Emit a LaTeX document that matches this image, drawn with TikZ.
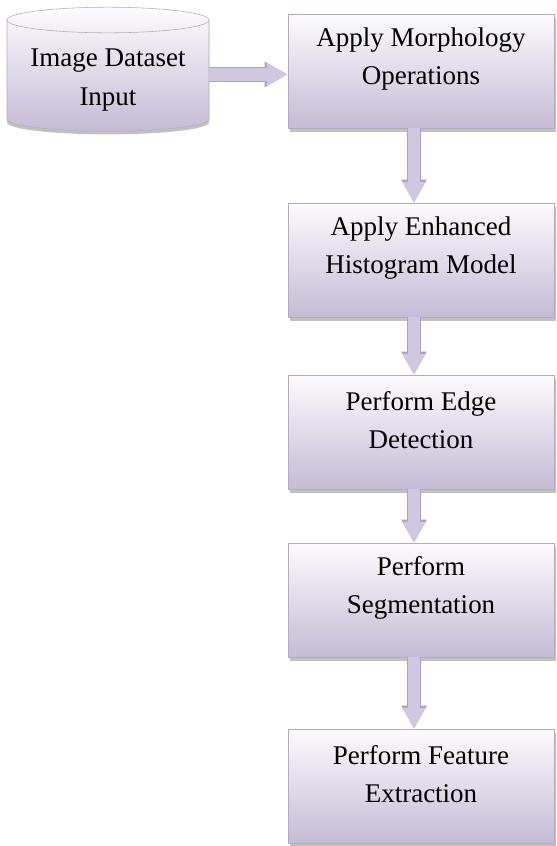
\documentclass[tikz,border=0pt]{standalone}
\usepackage{fontspec}
\setmainfont{Liberation Serif}
\usetikzlibrary{arrows.meta,positioning,shadows}

\definecolor{steptop}{RGB}{252,251,253}
\definecolor{stepfill}{RGB}{197,187,214}
\definecolor{stepline}{RGB}{178,172,190}
\definecolor{arrowfill}{RGB}{208,199,224}
\definecolor{arrowline}{RGB}{172,164,190}

\begin{document}
\begin{tikzpicture}[
  every node/.style={font=\fontsize{19.2}{27.5}\selectfont},
  stepbox/.style={draw=stepline, rectangle, minimum width=6.65cm, minimum height=2.85cm,
    top color=steptop, bottom color=stepfill,
    drop shadow={shadow xshift=0.05cm, shadow yshift=-0.1cm, fill=gray!60, opacity=0.8}},
  steptext/.style={align=center},
  flow/.style={line width=0.32cm, draw=arrowfill, -{Triangle[length=0.52cm,width=0.54cm]},
    preaction={draw=arrowline, line width=0.36cm, -{Triangle[length=0.58cm,width=0.6cm]}}}
]
  \useasboundingbox (0,0) rectangle (13.925,-21.15);

  % input store
  \path[top color=steptop, bottom color=stepfill, draw=stepline,
    drop shadow={shadow xshift=0cm, shadow yshift=-0.08cm, fill=gray!60, opacity=0.8}]
    (0.175,-0.5) -- (0.175,-2.98) arc[start angle=180, end angle=360, x radius=2.525, y radius=0.3]
    -- (5.225,-0.5) arc[start angle=0, end angle=180, x radius=2.525, y radius=0.32] -- cycle;
  \draw[stepline] (0.175,-0.5) arc[start angle=180, end angle=360, x radius=2.525, y radius=0.32];
  \node[steptext] (data) at (2.7,-2.0) {Image Dataset\\Input};
  \coordinate (dataeast) at (5.225,-1.86);

  % steps
  \node[stepbox] (morph) at (10.525,-1.775) {};
  \node[steptext] (morphtext) at ([yshift=0.3cm]morph.center) {Apply Morphology\\Operations};

  \node[stepbox] (hist) at (10.525,-6.5) {};
  \node[steptext] (histtext) at ([yshift=0.3cm]hist.center) {Apply Enhanced\\Histogram Model};

  \node[stepbox] (edge) at (10.525,-10.8) {};
  \node[steptext] (edgetext) at ([yshift=0.3cm]edge.center) {Perform Edge\\Detection};

  \node[stepbox] (seg) at (10.525,-15.0) {};
  \node[steptext] (segtext) at ([yshift=0.3cm]seg.center) {Perform\\Segmentation};

  \node[stepbox] (feat) at (10.525,-19.65) {};
  \node[steptext] (feattext) at ([yshift=0.3cm]feat.center) {Perform Feature\\Extraction};

  % arrows
  \draw[flow] (dataeast) -- (dataeast -| morph.west);
  \draw[flow] ([xshift=-0.175cm]morph.south) -- ([xshift=-0.175cm]hist.north);
  \draw[flow] ([xshift=-0.175cm]hist.south) -- ([xshift=-0.175cm]edge.north);
  \draw[flow] ([xshift=-0.175cm]edge.south) -- ([xshift=-0.175cm]seg.north);
  \draw[flow] ([xshift=-0.175cm]seg.south) -- ([xshift=-0.175cm]feat.north);
\end{tikzpicture}
\end{document}
